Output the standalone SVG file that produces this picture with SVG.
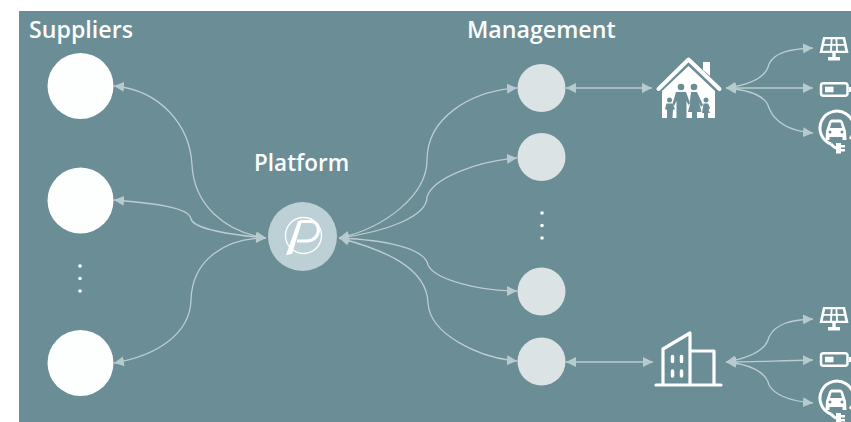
<svg xmlns="http://www.w3.org/2000/svg" width="851" height="422" viewBox="0 0 851 422">
<style>
.t{font-family:"Open Sans","Liberation Sans",sans-serif;font-size:23.2px;font-weight:600;fill:#fbfdfd}
.c{fill:none;stroke:#bccdd1;stroke-width:1.300;marker-end:url(#a);marker-start:url(#a)}
.i{fill:#fff;stroke:none}
.g{fill:#6a8d96;stroke:none}
.l{fill:none;stroke:#fff;stroke-width:3.200;stroke-linejoin:round;stroke-linecap:round}
.m{fill:#dbe3e5}
.s{fill:#fdfefe}
.d{fill:#fff}
</style>
<defs>
<marker id="a" viewBox="0 0 10 10" refX="10" refY="5" markerWidth="10" markerHeight="10" markerUnits="userSpaceOnUse" orient="auto-start-reverse"><path d="M0 0L10 5L0 10Z" fill="#b7cace"/></marker>
<g id="solar">
<path class="i" d="M-11-11H11L14.500 5H-14.500Z"/>
<path class="g" d="M-8.800-8.800H-3.300L-3.600-4H-9.800ZM-1.500-8.800H1.500L1.700-4H-1.700ZM3.300-8.800H8.800L9.800-4H3.600ZM-10.200-2.300H-3.700L-4 2.800H-11.300ZM-1.800-2.300H1.800L2 2.800H-2ZM3.700-2.300H10.200L11.300 2.800H4Z"/>
<path class="i" d="M-1.700 5H1.700V9H6V12.500H-6V9H-1.700Z"/>
</g>
<g id="batt">
<rect x="-13" y="-6.300" width="26.500" height="12.600" rx="2.500" fill="none" stroke="#fff" stroke-width="2.500"/>
<rect x="-9" y="-2.800" width="8.500" height="5.600" fill="#fff"/>
<rect x="15" y="-2.500" width="2" height="5" fill="#fff"/>
</g>
<g id="car">
<path d="M-5 16A17 17 0 1 1 14 11" fill="none" stroke="#fff" stroke-width="3"/>
<path d="M-5 16C-3 18-2 20 1 20" fill="none" stroke="#fff" stroke-width="3"/>
<path class="i" d="M-10 3L-7-6C-6-8-5-8.500-3-8.500H3C5-8.500 6-8 7-6L10 3L10.500 12H6.500V9H-6.500V12H-10.500Z"/>
<path class="g" d="M-6 0L-4.500-5.500H4.500L6 0Z"/>
<circle class="g" cx="-6" cy="4" r="1.500"/><circle class="g" cx="6" cy="4" r="1.500"/>
<path class="i" d="M0 15H5V17H9V19.500H5V21H9V23.500H5V25.500H0Z"/>
</g>
</defs>
<rect x="19" y="11" width="832" height="411" fill="#6a8d96"/>
<g id="connectors">
<path class="c" d="M114 86C160 90 190 125 192 165C194 205 225 232 266 238"/>
<path class="c" d="M114 200C150 203 190 207 191 219C194 230 235 235 266 238"/>
<path class="c" d="M114 363C155 356 190 335 191 300C192 260 225 238 266 238"/>
<path class="c" d="M339 238C385 228 427 195 427 160C427 118 470 91 517 88"/>
<path class="c" d="M339 238C385 232 427 217 427 197C433 177 480 161 517 158"/>
<path class="c" d="M339 238C385 240 425 248 428 265C435 280 480 291 517 291"/>
<path class="c" d="M339 238C385 250 427 268 428 303C430 335 480 358 517 361"/>
<path class="c" d="M566 88H652"/>
<path class="c" d="M566 362H653"/>
<path class="c" d="M726 88C750 85 766 78 769 64C775 52 790 49 813 48"/>
<path class="c" d="M726 88H813"/>
<path class="c" d="M726 88C750 90 766 96 769 108C775 123 790 131 813 133"/>
<path class="c" d="M726 362C750 358 766 350 769 337C775 324 790 320 813 319"/>
<path class="c" d="M726 362C750 362 770 361 813 360"/>
<path class="c" d="M726 362C750 364 766 372 769 385C775 396 790 401 813 403"/>
</g>
<g id="suppliers">
<text class="t" x="29" y="38">Suppliers</text>
<circle class="s" cx="80.500" cy="86" r="33"/>
<circle class="s" cx="80.500" cy="200.500" r="33"/>
<circle class="s" cx="80.500" cy="363" r="33"/>
<circle class="d" cx="80" cy="266" r="1.800"/><circle class="d" cx="80" cy="278.500" r="1.800"/><circle class="d" cx="80" cy="291" r="1.800"/>
</g>
<g id="platform">
<text class="t" x="254" y="171" style="font-size:22.500px">Platform</text>
<circle cx="302.500" cy="236.500" r="34.500" fill="#bdd0d5"/>
<circle cx="303.500" cy="235.500" r="18" fill="none" stroke="#fff" stroke-width="1.300"/>
<path class="i" d="M286 255L298 221H302L292 254Z"/>
<path d="M300 221.500H311C322 221.500 321 241 307 241H297" fill="none" stroke="#fff" stroke-width="3.200"/>
</g>
<g id="management">
<text class="t" x="467" y="38">Management</text>
<circle class="m" cx="541.500" cy="88" r="24"/>
<circle class="m" cx="541.500" cy="157" r="24"/>
<circle class="m" cx="541.500" cy="291.500" r="24"/>
<circle class="m" cx="541.500" cy="361.500" r="24"/>
<circle class="d" cx="542" cy="213" r="1.800"/><circle class="d" cx="542" cy="225.500" r="1.800"/><circle class="d" cx="542" cy="238" r="1.800"/>
</g>
<g id="house">
<path class="i" d="M703 62H710V76L703 70Z"/>
<path d="M658.500 89L688.500 59.500L719.500 89" fill="none" stroke="#fff" stroke-width="4" stroke-linecap="round" stroke-linejoin="round"/>
<path class="i" d="M662 91L688.500 66L715 91V118H662Z"/>
<g class="g">
<circle cx="681" cy="87" r="3.300"/><circle cx="694" cy="87" r="3.300"/><circle cx="669.500" cy="100" r="2.500"/><circle cx="706" cy="100" r="2.500"/>
<path d="M676 92H686L690 103L688.500 105L686.500 101V118H676.500V101L674 106L672.500 104Z"/>
<path d="M691 92H697L703 105L701 107L699 102L701.500 112H697V118H692V112H688L690.500 102L689.500 104Z"/>
<path d="M666.500 103.500H672.500L675 109L673 110L672.500 118H667V110L665 109Z"/>
<path d="M703.500 103.500H708L710 108L708.500 110L710 113H708V118H704V113H702Z"/>
</g>
</g>
<g id="house-devices">
<use href="#solar" x="834" y="48"/>
<use href="#batt" x="834" y="89.500"/>
<use href="#car" x="836" y="128"/>
</g>
<g id="building">
<path class="l" d="M663 385V349L690 333V385M690 351H714V385M656 385H721"/>
<path d="M672.500 356.500v5M681.500 356.500v5M672.500 371v5M681.500 371v5" stroke="#fff" stroke-width="3.500" stroke-linecap="round" fill="none"/>
</g>
<g id="building-devices">
<use href="#solar" x="834" y="318"/>
<use href="#batt" x="834" y="359.500"/>
<use href="#car" x="836" y="398"/>
</g>
</svg>
